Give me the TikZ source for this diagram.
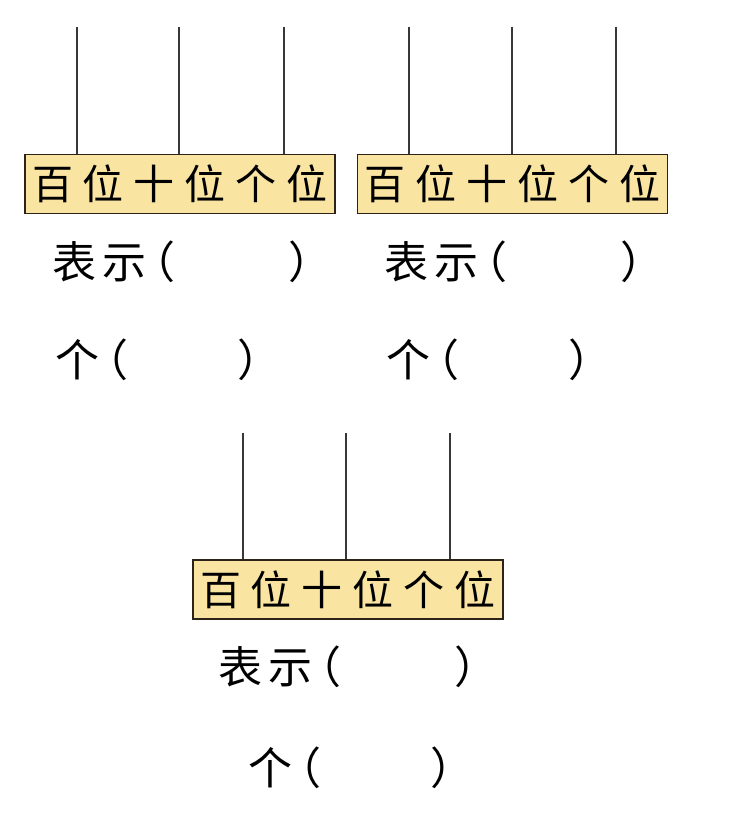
\documentclass[tikz,border=0pt]{standalone}
\usepackage{fontspec}
\newfontfamily\cjk{Noto Sans CJK SC}
\definecolor{boxfill}{RGB}{249,228,162}
\definecolor{boxline}{RGB}{45,35,25}
\definecolor{rodcol}{RGB}{55,55,55}
\newcommand\placetext{百\hspace{10pt}位\hspace{10pt}十\hspace{10pt}位\hspace{10pt}个\hspace{10pt}位}
\newcommand\biaoshi{表\hspace{6pt}示\hspace{-15pt}（\hspace{113pt}）}
\newcommand\gehao{个\hspace{-15pt}（\hspace{109pt}）}
\tikzset{
  placebox/.style={draw=boxline, fill=boxfill, line width=1.4pt, minimum width=310pt,
    minimum height=59pt, inner sep=0pt, text=black, font=\cjk\fontsize{41}{41}\selectfont},
  rod/.style={draw=rodcol, line width=1.5pt},
  lbl/.style={anchor=west, inner sep=0pt, text=black, font=\cjk\fontsize{44}{44}\selectfont}
}
\begin{document}
\begin{tikzpicture}[x=1pt,y=-1pt]
\useasboundingbox (0,0) rectangle (730,813);
% panel 1
\node[placebox] (b1) at (180,184) {\placetext};
\coordinate (t1a) at (77,27);
\coordinate (t1b) at (179,27);
\coordinate (t1c) at (284,27);
\draw[rod] (t1a) -- (t1a |- b1.north);
\draw[rod] (t1b) -- (t1b |- b1.north);
\draw[rod] (t1c) -- (t1c |- b1.north);
\node[lbl] (r1) at (52,262) {\biaoshi};
\node[lbl] (g1) at (55,360) {\gehao};
% panel 2
\node[placebox] (b2) at (512.5,184) {\placetext};
\coordinate (t2a) at (409,27);
\coordinate (t2b) at (512,27);
\coordinate (t2c) at (616,27);
\draw[rod] (t2a) -- (t2a |- b2.north);
\draw[rod] (t2b) -- (t2b |- b2.north);
\draw[rod] (t2c) -- (t2c |- b2.north);
\node[lbl] (r2) at (384,262) {\biaoshi};
\node[lbl] (g2) at (386,360) {\gehao};
% panel 3
\node[placebox] (b3) at (348,589.5) {\placetext};
\coordinate (t3a) at (243,433);
\coordinate (t3b) at (346,433);
\coordinate (t3c) at (450,433);
\draw[rod] (t3a) -- (t3a |- b3.north);
\draw[rod] (t3b) -- (t3b |- b3.north);
\draw[rod] (t3c) -- (t3c |- b3.north);
\node[lbl] (r3) at (218,667) {\biaoshi};
\node[lbl] (g3) at (248,768) {\gehao};
\end{tikzpicture}
\end{document}
